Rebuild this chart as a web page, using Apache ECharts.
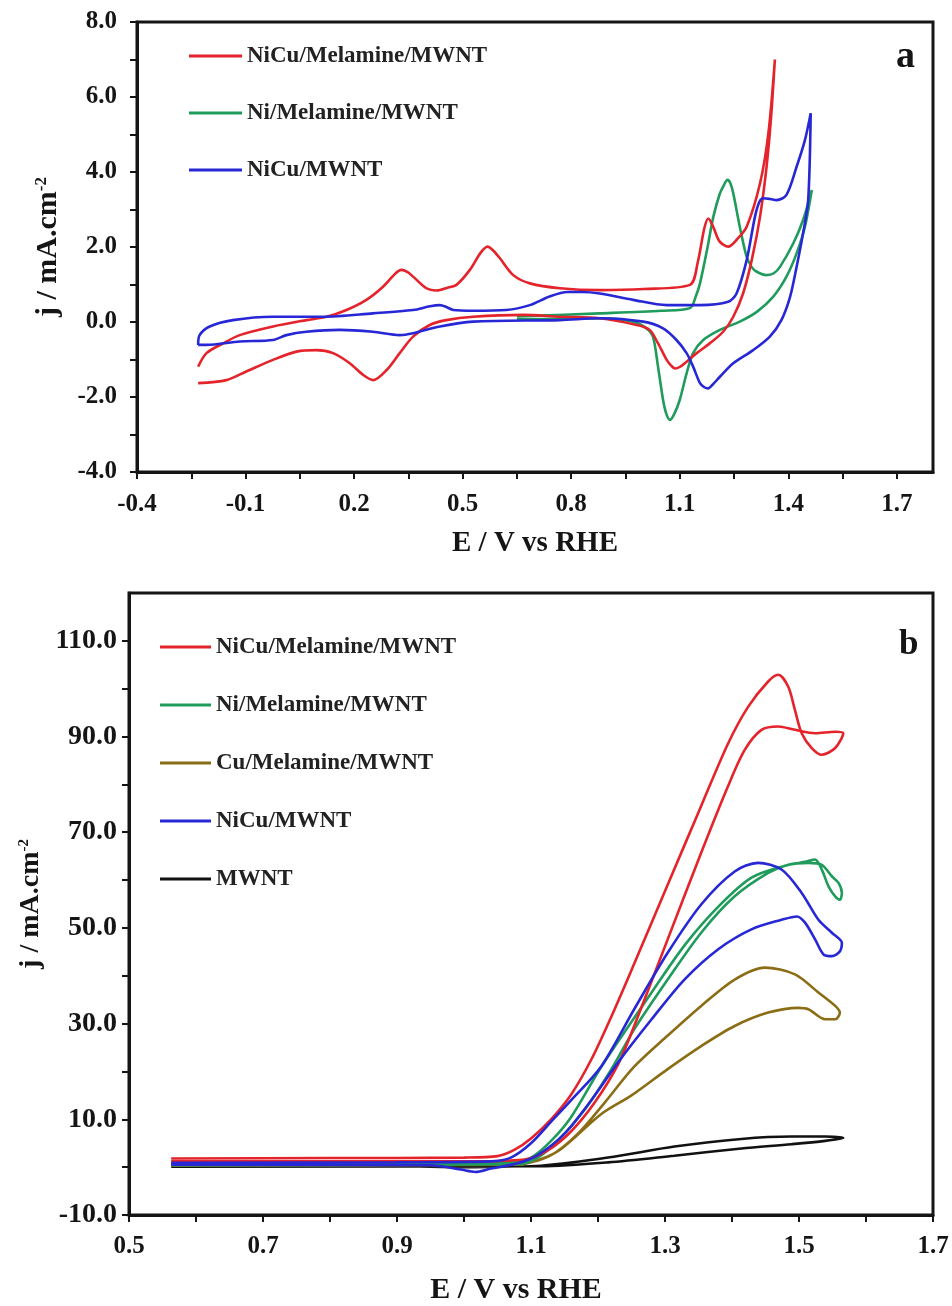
<!DOCTYPE html>
<html>
<head>
<meta charset="utf-8">
<script src="https://cdn.jsdelivr.net/npm/echarts@6/dist/echarts.min.js"></script>
<style>
html,body{margin:0;padding:0;background:#fff;}
#chart{width:952px;height:1306px;}
</style>
</head>
<body>
<div id="chart"></div>
<script>
// ---------- Panel a: CV in alkaline medium (E / V vs RHE, j / mA cm-2) ----------
const aSeriesNames = ['NiCu/Melamine/MWNT', 'Ni/Melamine/MWNT', 'NiCu/MWNT'];
const aXTicks = [-0.4,-0.25,-0.1,0.05,0.2,0.35,0.5,0.65,0.8,0.95,1.1,1.25,1.4,1.55,1.7];
const aXLabels = [-0.4,-0.1,0.2,0.5,0.8,1.1,1.4,1.7];
const aYTicks = [-4,-3,-2,-1,0,1,2,3,4,5,6,7,8];
const aYLabels = [-4,-2,0,2,4,6,8];

const aNiCuMel = [
  [-0.231,-1.19],[-0.208,-0.83],[-0.162,-0.57],[-0.116,-0.35],[-0.024,-0.12],[0.068,0.05],[0.124,0.14],
  [0.179,0.32],[0.234,0.59],[0.280,0.94],[0.315,1.30],[0.331,1.39],[0.348,1.33],[0.363,1.21],[0.400,0.90],
  [0.428,0.84],[0.460,0.92],[0.483,0.99],[0.520,1.39],[0.550,1.85],[0.569,2.01],[0.585,1.90],[0.603,1.70],
  [0.640,1.25],[0.686,1.03],[0.769,0.90],[0.879,0.85],[1.000,0.88],[1.128,0.99],[1.150,1.60],[1.168,2.50],
  [1.179,2.76],[1.192,2.55],[1.210,2.15],[1.234,2.01],[1.258,2.20],[1.285,2.54],[1.322,3.70],[1.345,5.03],
  [1.363,7.00],
  [1.352,5.40],[1.340,4.14],[1.322,2.81],[1.299,1.65],[1.275,0.76],[1.248,0.14],[1.220,-0.26],[1.183,-0.57],
  [1.147,-0.83],[1.119,-1.06],[1.100,-1.20],[1.087,-1.24],[1.075,-1.15],[1.064,-1.01],[1.040,-0.57],
  [1.017,-0.21],[0.981,-0.08],[0.879,0.10],[0.769,0.14],[0.667,0.19],[0.529,0.14],[0.455,0.05],[0.409,-0.08],
  [0.363,-0.39],[0.326,-0.83],[0.290,-1.28],[0.253,-1.55],[0.225,-1.41],[0.188,-1.10],[0.142,-0.83],
  [0.096,-0.75],[0.041,-0.79],[-0.024,-1.01],[-0.098,-1.32],[-0.153,-1.55],[-0.231,-1.63]
];
const aNiMel = [
  [0.650,0.15],[0.879,0.23],[1.050,0.30],[1.128,0.37],[1.145,0.70],[1.156,1.03],[1.175,1.90],[1.193,2.81],
  [1.210,3.40],[1.220,3.61],[1.232,3.79],[1.240,3.70],[1.248,3.43],[1.266,2.54],[1.285,1.74],[1.300,1.45],
  [1.313,1.34],[1.340,1.25],[1.360,1.30],[1.377,1.47],[1.414,2.10],[1.441,2.72],[1.465,3.52],
  [1.446,2.54],[1.423,1.83],[1.395,1.21],[1.358,0.67],[1.313,0.27],[1.266,0.01],[1.211,-0.21],[1.165,-0.48],
  [1.137,-0.83],[1.119,-1.37],[1.100,-2.08],[1.085,-2.45],[1.073,-2.61],[1.063,-2.45],[1.054,-2.08],
  [1.040,-1.19],[1.026,-0.39],[1.008,-0.17],[0.971,0.01],[0.879,0.10],[0.650,0.07]
];
const aNiCu = [
  [-0.231,-0.61],[-0.227,-0.35],[-0.199,-0.12],[-0.135,0.05],[-0.024,0.14],[0.114,0.14],[0.252,0.23],
  [0.363,0.32],[0.410,0.42],[0.437,0.45],[0.455,0.40],[0.474,0.32],[0.529,0.30],[0.621,0.32],[0.686,0.45],
  [0.740,0.68],[0.790,0.80],[0.830,0.80],[0.879,0.76],[0.971,0.59],[1.064,0.45],[1.156,0.45],[1.234,0.54],
  [1.257,0.76],[1.285,1.65],[1.308,2.81],[1.320,3.20],[1.331,3.30],[1.350,3.28],[1.368,3.25],[1.395,3.39],
  [1.423,4.14],[1.446,4.85],[1.462,5.57],
  [1.455,3.25],[1.441,2.37],[1.423,1.47],[1.405,0.67],[1.381,0.05],[1.349,-0.39],[1.303,-0.75],[1.248,-1.10],
  [1.211,-1.46],[1.190,-1.68],[1.179,-1.77],[1.168,-1.74],[1.156,-1.63],[1.137,-1.19],[1.119,-0.83],
  [1.091,-0.48],[1.054,-0.17],[0.999,0.01],[0.879,0.10],[0.769,0.05],[0.529,0.01],[0.437,-0.12],
  [0.363,-0.30],[0.326,-0.35],[0.252,-0.26],[0.160,-0.21],[0.068,-0.26],[0.013,-0.35],[-0.024,-0.48],
  [-0.116,-0.52],[-0.208,-0.61],[-0.231,-0.61]
];

// ---------- Panel b: CV with methanol ----------
const bSeriesNames = ['NiCu/Melamine/MWNT', 'Ni/Melamine/MWNT', 'Cu/Melamine/MWNT', 'NiCu/MWNT', 'MWNT'];
const bXTicks = [0.5,0.6,0.7,0.8,0.9,1.0,1.1,1.2,1.3,1.4,1.5,1.6,1.7];
const bXLabels = [0.5,0.7,0.9,1.1,1.3,1.5,1.7];
const bYTicks = [-10,0,10,20,30,40,50,60,70,80,90,100,110];
const bYLabels = [-10,10,30,50,70,90,110];

const bNiCuMel = [
  [0.563,1.8],[0.800,1.9],[1.000,2.0],[1.050,2.3],[1.075,3.6],[1.100,6.0],[1.130,10.0],[1.160,15.2],
  [1.190,22.5],[1.220,31.5],[1.254,42.5],[1.304,59.0],[1.354,75.5],[1.394,88.5],[1.424,96.2],[1.454,101.5],
  [1.469,102.9],[1.484,100.4],[1.494,95.5],[1.504,90.7],[1.519,87.6],[1.534,86.2],[1.554,87.6],[1.566,90.7],
  [1.554,91.0],[1.524,90.7],[1.494,91.4],[1.469,92.1],[1.444,91.4],[1.419,87.2],[1.394,79.6],[1.354,65.7],
  [1.304,47.6],[1.254,29.5],[1.230,21.5],[1.195,13.5],[1.160,7.5],[1.125,3.5],[1.090,1.6],[1.000,1.2],
  [0.800,1.2],[0.563,1.2]
];
const bNiMel = [
  [0.563,0.8],[1.000,0.9],[1.070,1.0],[1.100,2.0],[1.130,5.5],[1.160,10.5],[1.205,21.0],[1.280,36.5],
  [1.330,46.5],[1.380,54.5],[1.429,60.5],[1.479,63.0],[1.509,63.8],[1.524,64.3],[1.534,62.2],[1.544,58.7],
  [1.554,56.6],[1.561,55.9],[1.564,57.3],[1.559,59.4],[1.549,60.8],[1.534,63.2],[1.514,63.6],[1.484,63.2],
  [1.454,61.5],[1.404,56.6],[1.354,49.0],[1.304,39.2],[1.254,28.8],[1.220,20.5],[1.180,12.0],[1.140,5.5],
  [1.110,2.0],[1.080,0.6],[0.563,0.4]
];
const bCuMel = [
  [0.563,0.6],[1.000,0.7],[1.090,0.9],[1.130,2.5],[1.170,7.0],[1.210,13.5],[1.254,21.0],[1.304,27.5],
  [1.354,33.7],[1.404,39.2],[1.449,41.7],[1.494,40.3],[1.529,36.5],[1.554,33.7],[1.561,32.3],[1.554,30.9],
  [1.539,30.9],[1.514,33.0],[1.499,33.3],[1.454,32.3],[1.404,29.5],[1.354,25.3],[1.304,20.5],[1.250,15.0],
  [1.205,11.1],[1.145,3.8],[1.115,1.7],[1.080,0.5],[0.563,0.3]
];
const bNiCu = [
  [0.563,0.9],[0.900,1.0],[1.040,1.2],[1.070,2.0],[1.100,5.0],[1.130,9.5],[1.160,14.0],[1.205,21.1],
  [1.254,33.0],[1.304,44.8],[1.354,54.9],[1.404,61.8],[1.439,63.6],[1.474,62.2],[1.504,57.3],[1.529,51.7],
  [1.549,49.0],[1.564,46.9],[1.561,45.1],[1.549,44.1],[1.537,44.4],[1.524,47.6],[1.509,51.1],[1.497,52.4],
  [1.474,51.7],[1.429,49.7],[1.379,45.5],[1.329,39.2],[1.280,30.9],[1.230,21.9],[1.190,14.0],[1.150,7.0],
  [1.110,2.5],[1.080,0.8],[1.040,-0.3],[1.017,-1.0],[0.995,-0.5],[0.950,0.4],[0.563,0.5]
];
const bMWNT = [
  [0.563,0.2],[0.900,0.2],[1.000,0.0],[1.060,0.1],[1.115,0.3],[1.215,2.0],[1.314,4.3],[1.414,5.9],
  [1.489,6.4],[1.539,6.4],[1.566,6.1],[1.539,5.5],[1.489,4.8],[1.414,3.9],[1.314,2.4],[1.215,1.0],
  [1.115,0.2],[0.563,0.1]
];

const COLORS = {
  'NiCu/Melamine/MWNT': '#e4232b',
  'Ni/Melamine/MWNT': '#1f9b5b',
  'Cu/Melamine/MWNT': '#8a6d14',
  'NiCu/MWNT': '#2727d6',
  'MWNT': '#111111'
};
const FONT = '"Liberation Serif", "Times New Roman", serif';
const INK = '#151515';

function fmt(v) { return Number(v).toFixed(1); }

function xAxisCfg(gridIndex, min, max, ticks, labels, labelSize, margin, name, nameSize, nameGap, namePad) {
  return {
    type: 'value', gridIndex: gridIndex, min: min, max: max,
    axisLine: { show: true, onZero: false, lineStyle: { color: INK, width: 3 } },
    axisTick: { show: true, inside: false, length: 7, customValues: ticks, lineStyle: { color: INK, width: 2 } },
    axisLabel: { show: true, customValues: labels, formatter: fmt, margin: margin,
      fontFamily: FONT, fontWeight: 'bold', fontSize: labelSize, color: INK },
    splitLine: { show: false },
    name: name, nameLocation: 'middle', nameGap: nameGap,
    nameTextStyle: { fontFamily: FONT, fontWeight: 'bold', fontSize: nameSize, color: INK, padding: namePad }
  };
}
function yAxisCfg(gridIndex, min, max, ticks, labels, labelSize, margin, nameSize, nameGap) {
  return {
    type: 'value', gridIndex: gridIndex, min: min, max: max,
    axisLine: { show: true, onZero: false, lineStyle: { color: INK, width: 3 } },
    axisTick: { show: true, inside: false, length: 7, customValues: ticks, lineStyle: { color: INK, width: 2 } },
    axisLabel: { show: true, customValues: labels, formatter: fmt, margin: margin,
      fontFamily: FONT, fontWeight: 'bold', fontSize: labelSize, color: INK },
    splitLine: { show: false },
    name: '{m|j / mA.cm}{s|-2}', nameLocation: 'middle', nameGap: nameGap, nameRotate: 90,
    nameTextStyle: {
      color: INK,
      rich: {
        m: { fontFamily: FONT, fontWeight: 'bold', fontSize: nameSize, color: INK },
        s: { fontFamily: FONT, fontWeight: 'bold', fontSize: Math.round(nameSize * 0.55), color: INK, verticalAlign: 'top' }
      }
    }
  };
}
function lineSeries(name, data, xi, yi) {
  return {
    type: 'line', name: name, data: data, xAxisIndex: xi, yAxisIndex: yi,
    showSymbol: false, symbol: 'none', smooth: 0.3, clip: true,
    lineStyle: { width: 2.6, color: COLORS[name] },
    itemStyle: { color: COLORS[name] },
    emphasis: { disabled: true }
  };
}
function legendCfg(names, left, top, itemWidth, gap) {
  return {
    data: names, orient: 'vertical', left: left, top: top, padding: 0,
    icon: 'rect', itemWidth: itemWidth, itemHeight: 3, itemGap: gap,
    selectedMode: false,
    textStyle: { fontFamily: FONT, fontWeight: 'bold', fontSize: 23, color: '#222', lineHeight: 24 }
  };
}

const chart = echarts.init(document.getElementById('chart'), null, { renderer: 'canvas' });
chart.setOption({
  animation: false,
  backgroundColor: '#ffffff',
  title: [
    { text: 'a', left: 896, top: 38, padding: 0,
      textStyle: { fontFamily: FONT, fontWeight: 'bold', fontSize: 38, color: INK } },
    { text: 'b', left: 899, top: 627, padding: 0,
      textStyle: { fontFamily: FONT, fontWeight: 'bold', fontSize: 35, color: INK } }
  ],
  legend: [
    legendCfg(aSeriesNames, 189, 44, 53, 33),
    legendCfg(bSeriesNames, 160, 635, 51, 34)
  ],
  grid: [
    { left: 137, right: 19, top: 22, bottom: 834, show: true, borderColor: INK, borderWidth: 3, backgroundColor: 'transparent' },
    { left: 129, right: 19, top: 593, bottom: 90, show: true, borderColor: INK, borderWidth: 3, backgroundColor: 'transparent' }
  ],
  xAxis: [
    xAxisCfg(0, -0.4, 1.8, aXTicks, aXLabels, 25, 20, 'E / V vs RHE', 29, 57, [0, 0, 0, 0]),
    xAxisCfg(1, 0.5, 1.7, bXTicks, bXLabels, 25, 19, 'E / V vs RHE', 30, 60, [0, 30, 0, 0])
  ],
  yAxis: [
    yAxisCfg(0, -4, 8, aYTicks, aYLabels, 25, 20, 30, 74),
    yAxisCfg(1, -10, 120, bYTicks, bYLabels, 28, 12, 28, 80)
  ],
  series: [
    lineSeries('Ni/Melamine/MWNT', aNiMel, 0, 0),
    lineSeries('NiCu/Melamine/MWNT', aNiCuMel, 0, 0),
    lineSeries('NiCu/MWNT', aNiCu, 0, 0),
    lineSeries('MWNT', bMWNT, 1, 1),
    lineSeries('Cu/Melamine/MWNT', bCuMel, 1, 1),
    lineSeries('Ni/Melamine/MWNT', bNiMel, 1, 1),
    lineSeries('NiCu/Melamine/MWNT', bNiCuMel, 1, 1),
    lineSeries('NiCu/MWNT', bNiCu, 1, 1)
  ]
});
</script>
</body>
</html>
